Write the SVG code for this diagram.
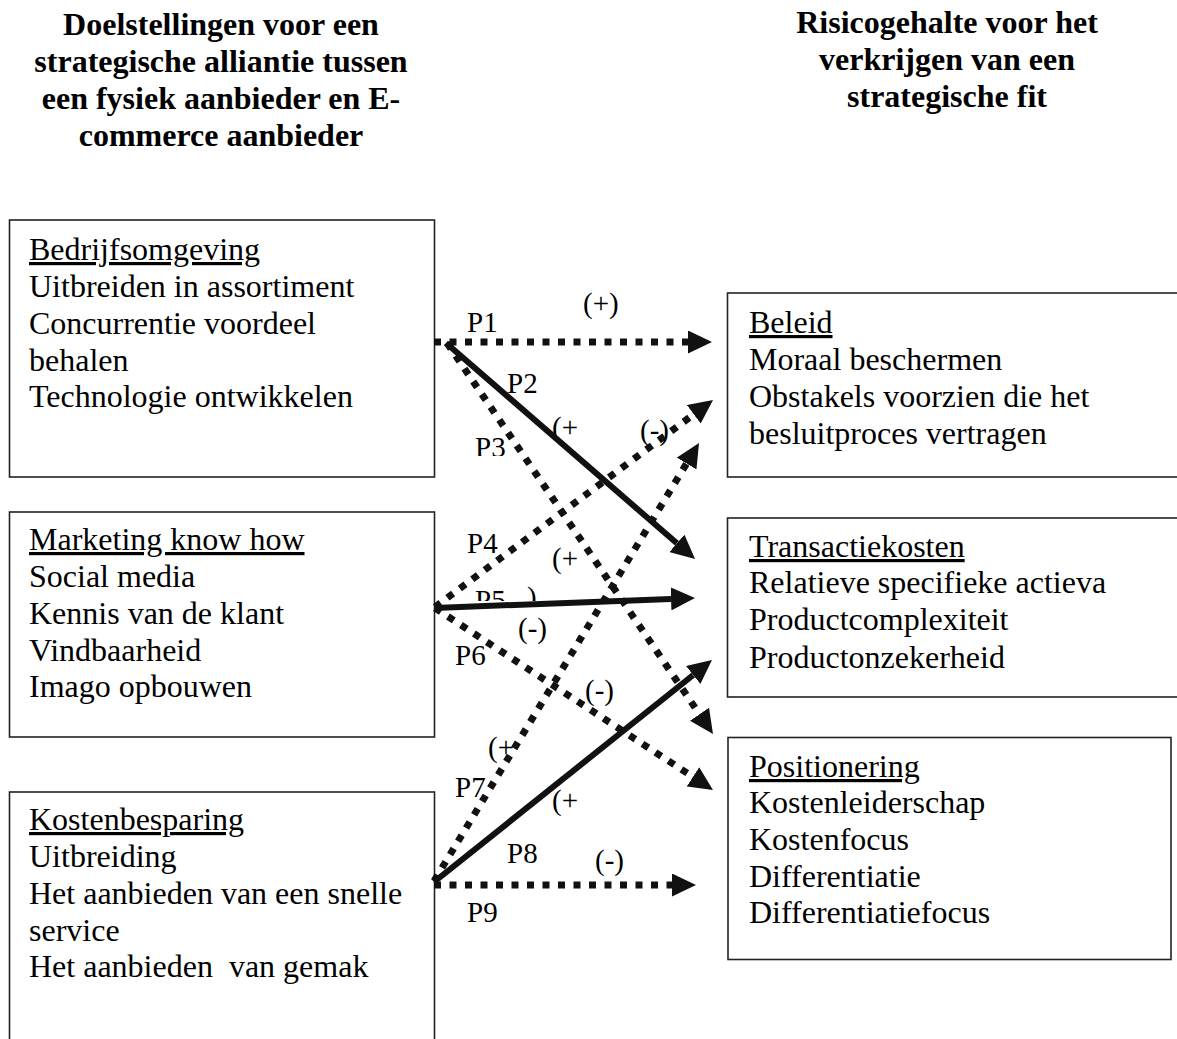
<svg xmlns="http://www.w3.org/2000/svg" width="1177" height="1039" viewBox="0 0 1177 1039">
  <style>
    .box { fill: #fff; stroke: #222; stroke-width: 1.6; }
    .head { font-family: "Liberation Serif", "Times New Roman", serif; font-weight: bold; font-size: 32px; fill: #000; text-anchor: middle; }
    .body { font-family: "Liberation Serif", "Times New Roman", serif; font-size: 32px; fill: #000; }
    .title { text-decoration: underline; }
    .lbl { font-family: "Liberation Serif", "Times New Roman", serif; font-size: 29px; fill: #000; }
    .dot { fill: none; stroke: #111; stroke-width: 7; stroke-dasharray: 7 8.5; marker-end: url(#arrow); }
    .solid { fill: none; stroke: #111; stroke-width: 6; marker-end: url(#arrow); }
  </style>
  <defs>
    <marker id="arrow" markerUnits="userSpaceOnUse" markerWidth="24" markerHeight="23" viewBox="0 0 24 23" refX="0" refY="11.5" orient="auto">
      <path d="M0,0 L24,11.5 L0,23 Z" fill="#111"/>
    </marker>
    <clipPath id="clipP3"><rect x="460" y="420" width="60" height="36"/></clipPath>
    <clipPath id="clipP5"><rect x="460" y="570" width="90" height="31"/></clipPath>
    <clipPath id="clipP6"><rect x="440" y="630" width="60" height="36"/></clipPath>
  </defs>
  <rect width="1177" height="1039" fill="#fff"/>

  <!-- column headings -->
  <g id="heading-left">
    <text class="head" x="221" y="35">Doelstellingen voor een</text>
    <text class="head" x="221" y="72">strategische alliantie tussen</text>
    <text class="head" x="221" y="109">een fysiek aanbieder en E-</text>
    <text class="head" x="221" y="146">commerce aanbieder</text>
  </g>
  <g id="heading-right">
    <text class="head" x="947" y="33">Risicogehalte voor het</text>
    <text class="head" x="947" y="70">verkrijgen van een</text>
    <text class="head" x="947" y="107">strategische fit</text>
  </g>

  <!-- left column: goals -->
  <g id="bedrijfsomgeving">
    <rect class="box" x="9.5" y="220" width="425" height="257"/>
    <text class="body title" x="29" y="260">Bedrijfsomgeving</text>
    <text class="body" x="29" y="297">Uitbreiden in assortiment</text>
    <text class="body" x="29" y="334">Concurrentie voordeel</text>
    <text class="body" x="29" y="371">behalen</text>
    <text class="body" x="29" y="407">Technologie ontwikkelen</text>
  </g>
  <g id="marketing">
    <rect class="box" x="9.5" y="512" width="425" height="225"/>
    <text class="body title" x="29" y="550">Marketing know how</text>
    <text class="body" x="29" y="587">Social media</text>
    <text class="body" x="29" y="624">Kennis van de klant</text>
    <text class="body" x="29" y="661">Vindbaarheid</text>
    <text class="body" x="29" y="697">Imago opbouwen</text>
  </g>
  <g id="kostenbesparing">
    <rect class="box" x="9.5" y="792" width="425" height="260"/>
    <text class="body title" x="29" y="830">Kostenbesparing</text>
    <text class="body" x="29" y="867">Uitbreiding</text>
    <text class="body" x="29" y="904">Het aanbieden van een snelle</text>
    <text class="body" x="29" y="941">service</text>
    <text class="body" x="29" y="977" xml:space="preserve">Het aanbieden  van gemak</text>
  </g>

  <!-- right column: risk factors -->
  <g id="beleid">
    <rect class="box" x="727.5" y="293" width="460" height="184"/>
    <text class="body title" x="749" y="333">Beleid</text>
    <text class="body" x="749" y="370">Moraal beschermen</text>
    <text class="body" x="749" y="407">Obstakels voorzien die het</text>
    <text class="body" x="749" y="444">besluitproces vertragen</text>
  </g>
  <g id="transactiekosten">
    <rect class="box" x="727.5" y="518" width="460" height="179"/>
    <text class="body title" x="749" y="557">Transactiekosten</text>
    <text class="body" x="749" y="593">Relatieve specifieke actieva</text>
    <text class="body" x="749" y="630">Productcomplexiteit</text>
    <text class="body" x="749" y="668">Productonzekerheid</text>
  </g>
  <g id="positionering">
    <rect class="box" x="728" y="737.5" width="443" height="222"/>
    <text class="body title" x="749" y="777">Positionering</text>
    <text class="body" x="749" y="813">Kostenleiderschap</text>
    <text class="body" x="749" y="850">Kostenfocus</text>
    <text class="body" x="749" y="887">Differentiatie</text>
    <text class="body" x="749" y="923">Differentiatiefocus</text>
  </g>

  <!-- proposition labels and signs -->
  <g id="labels">
    <text class="lbl" x="583" y="313">(+)</text>
    <text class="lbl" x="467" y="332">P1</text>
    <text class="lbl" x="507" y="393">P2</text>
    <text class="lbl" x="552" y="437">(+</text>
    <text class="lbl" x="640" y="440">(-)</text>
    <text class="lbl" x="475" y="457" clip-path="url(#clipP3)">P3</text>
    <text class="lbl" x="467" y="553">P4</text>
    <text class="lbl" x="552" y="568">(+</text>
    <g clip-path="url(#clipP5)">
      <text class="lbl" x="475" y="610">P5</text>
      <text class="lbl" x="527" y="607">)</text>
    </g>
    <text class="lbl" x="518" y="638">(-)</text>
    <text class="lbl" x="455" y="665" clip-path="url(#clipP6)">P6</text>
    <text class="lbl" x="585" y="700">(-)</text>
    <text class="lbl" x="488" y="757">(+</text>
    <text class="lbl" x="455" y="797">P7</text>
    <text class="lbl" x="552" y="810">(+</text>
    <text class="lbl" x="507" y="863">P8</text>
    <text class="lbl" x="595" y="870">(-)</text>
    <text class="lbl" x="467" y="922">P9</text>
  </g>

  <!-- propositions P1..P9 -->
  <g id="connectors">
    <line class="dot" x1="434" y1="342" x2="688" y2="342"/>
    <line class="solid" x1="446" y1="343" x2="676.9" y2="543.3"/>
    <line class="dot" x1="447" y1="343" x2="699.5" y2="714.2"/>
    <line class="dot" x1="435" y1="607" x2="693.8" y2="414.3"/>
    <line class="solid" x1="435" y1="608" x2="671" y2="598.9"/>
    <line class="dot" x1="435" y1="608" x2="692.9" y2="776.9"/>
    <line class="dot" x1="434" y1="881" x2="686.6" y2="463.5"/>
    <line class="solid" x1="434" y1="882" x2="693.2" y2="675"/>
    <line class="dot" x1="434" y1="885" x2="672" y2="885"/>
  </g>
</svg>
